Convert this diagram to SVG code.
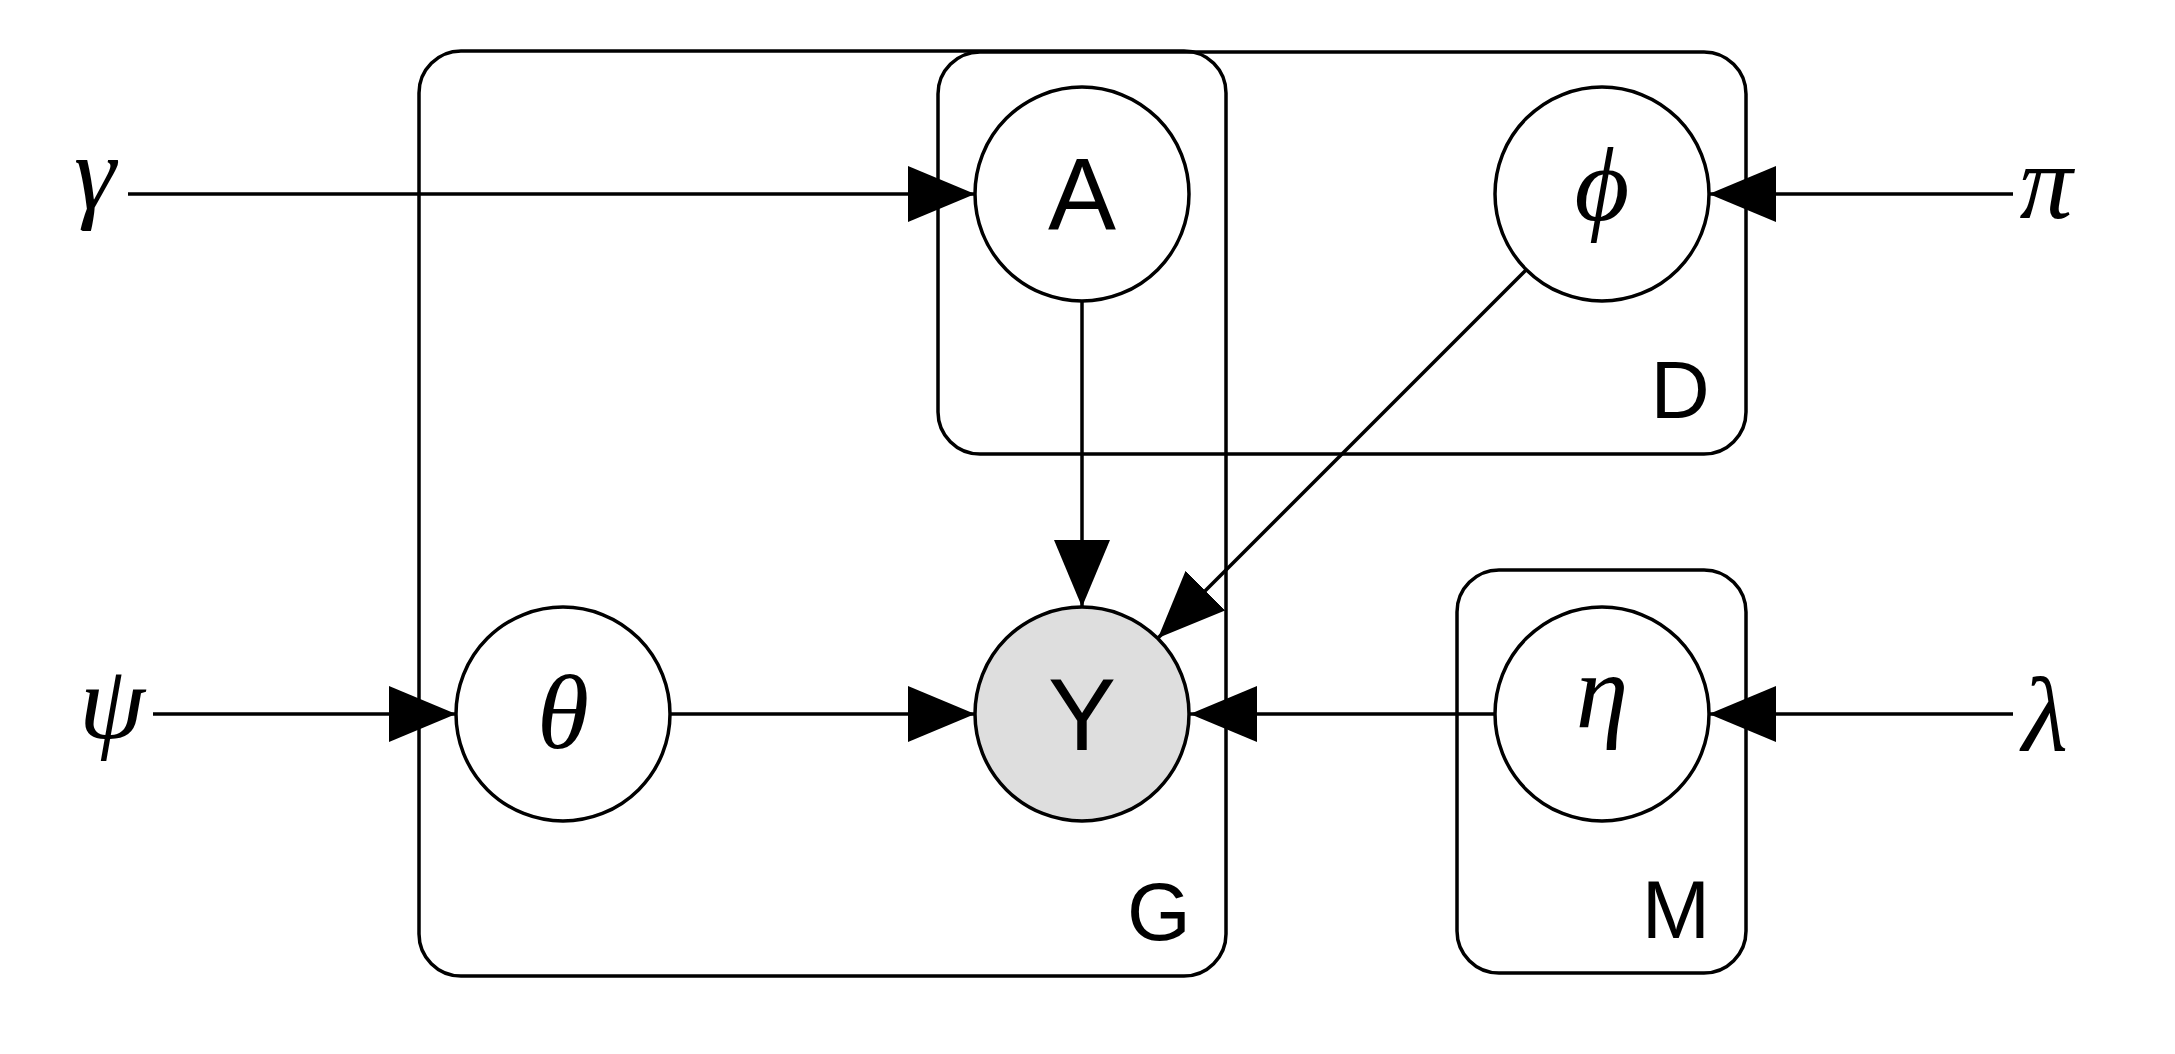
<svg xmlns="http://www.w3.org/2000/svg" width="2175" height="1054" viewBox="0 0 2175 1054">
<style>
.plate{fill:none;stroke:#000;stroke-width:3.5}
.node{fill:#fff;stroke:#000;stroke-width:3.5}
.obs{fill:#dedede}
.edge{fill:none;stroke:#000;stroke-width:3.5;marker-end:url(#arr)}
.sans{font-family:"Liberation Sans",Arial,sans-serif;fill:#000;text-anchor:middle}
.greek{font-family:"Liberation Serif","DejaVu Serif",serif;font-style:italic;font-size:106px;fill:#000;text-anchor:middle}
.plabel{font-size:82px}
.nlabel{font-size:102px}
</style>
<defs>
<marker id="arr" viewBox="0 0 67 56" refX="67" refY="28" markerWidth="67" markerHeight="56" markerUnits="userSpaceOnUse" orient="auto">
<path d="M0,0 L67,28 L0,56 Z" fill="#000"/>
</marker>
</defs>
<rect width="2175" height="1054" fill="#fff"/>
<g id="plate-G">
<rect class="plate" x="419" y="51" width="807" height="925" rx="42" ry="42"/>
<text class="sans plabel" x="1159" y="940">G</text>
</g>
<g id="plate-D">
<rect class="plate" x="938" y="52" width="808" height="402" rx="42" ry="42"/>
<text class="sans plabel" x="1680" y="418">D</text>
</g>
<g id="plate-M">
<rect class="plate" x="1457" y="570" width="289" height="403" rx="42" ry="42"/>
<text class="sans plabel" x="1676" y="938">M</text>
</g>
<g id="connectors">
<line class="edge" x1="128" y1="194" x2="975" y2="194"/>
<line class="edge" x1="2013" y1="194" x2="1709" y2="194"/>
<line class="edge" x1="1082" y1="301" x2="1082" y2="607"/>
<line class="edge" x1="1526" y1="270" x2="1158" y2="638"/>
<line class="edge" x1="153" y1="714" x2="456" y2="714"/>
<line class="edge" x1="670" y1="714" x2="975" y2="714"/>
<line class="edge" x1="1495" y1="714" x2="1190" y2="714"/>
<line class="edge" x1="2013" y1="714" x2="1709" y2="714"/>
</g>
<g id="hyper-gamma"><text class="greek" x="95" y="208">γ</text></g>
<g id="hyper-psi"><text class="greek" x="112" y="738">ψ</text></g>
<g id="hyper-pi"><text class="greek" x="2046" y="218">π</text></g>
<g id="hyper-lambda"><text class="greek" x="2045" y="750">λ</text></g>
<g id="node-A">
<circle class="node" cx="1082" cy="194" r="107"/>
<text class="sans nlabel" x="1082" y="230">A</text>
</g>
<g id="node-phi">
<circle class="node" cx="1602" cy="194" r="107"/>
<text class="greek" x="1602" y="220">ϕ</text>
</g>
<g id="node-theta">
<circle class="node" cx="563" cy="714" r="107"/>
<text class="greek" x="563" y="748">θ</text>
</g>
<g id="node-Y">
<circle class="node obs" cx="1082" cy="714" r="107"/>
<text class="sans nlabel" x="1082" y="750">Y</text>
</g>
<g id="node-eta">
<circle class="node" cx="1602" cy="714" r="107"/>
<text class="greek" x="1602" y="727">η</text>
</g>
</svg>
